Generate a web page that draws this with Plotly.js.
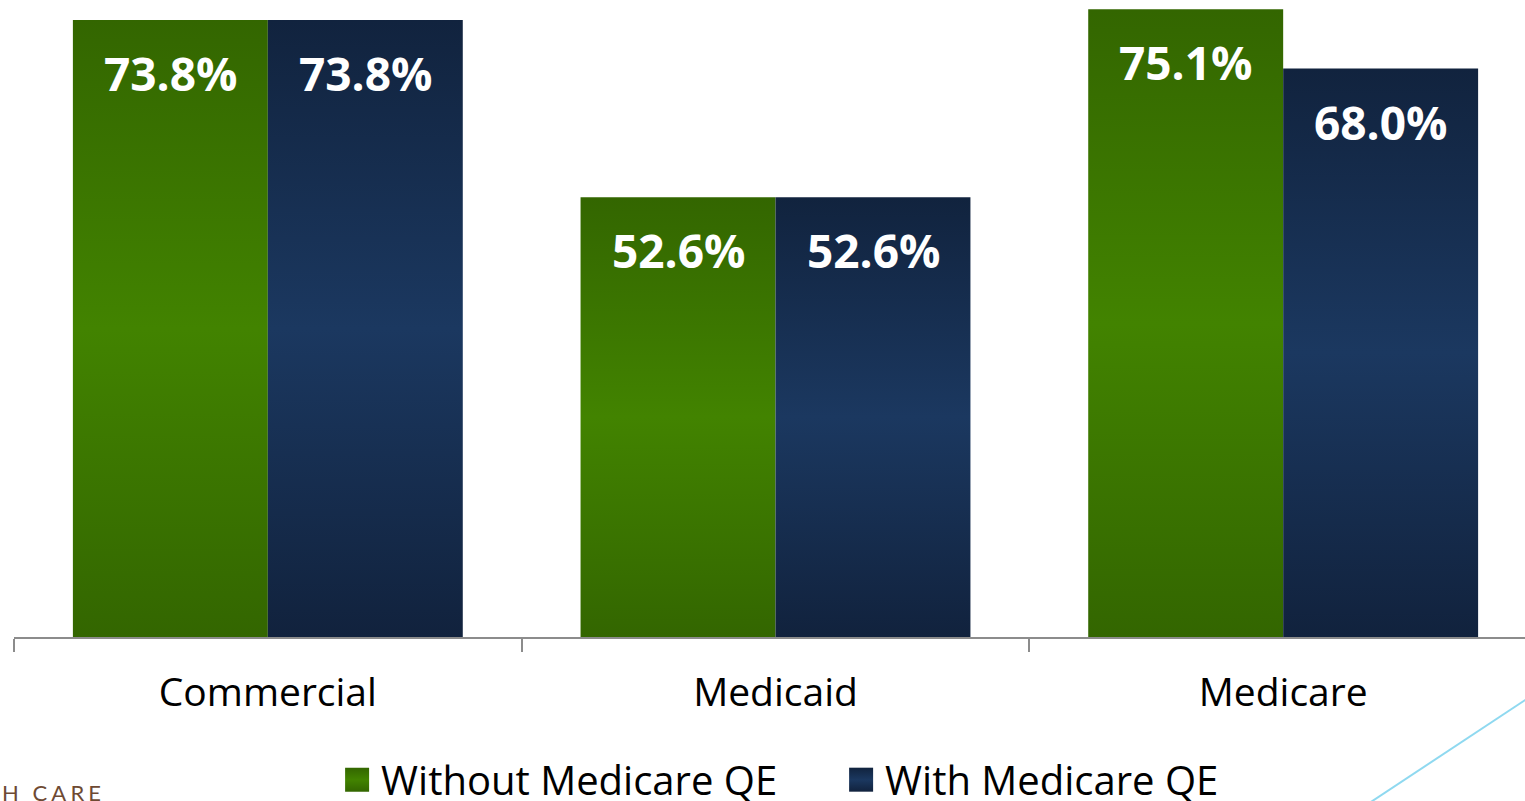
<!DOCTYPE html>
<html>
<head>
<meta charset="utf-8">
<script src="https://cdn.plot.ly/plotly-3.0.1.min.js"></script>
<style>
  html, body { margin: 0; padding: 0; overflow: hidden; background: #fff; }
  #chart { width: 1537px; height: 801px; }
</style>
</head>
<body>
<div id="chart"></div>
<script>
// ---- data ----
const categories = ["Commercial", "Medicaid", "Medicare"];
const withoutQE = [73.8, 52.6, 75.1];
const withQE = [73.8, 52.6, 68.0];
const seriesNames = ["Without Medicare QE", "With Medicare QE"];

const greenColor = "#3b7500";
const blueColor = "#172e51";
const labelFont = "'Open Sans', 'Noto Sans', sans-serif";

const traces = [
  { type: "bar", name: seriesNames[0], x: categories, y: withoutQE,
    marker: { color: greenColor, line: { width: 0 } }, hoverinfo: "none" },
  { type: "bar", name: seriesNames[1], x: categories, y: withQE,
    marker: { color: blueColor, line: { width: 0 } }, hoverinfo: "none" }
];

const annotations = [];
[withoutQE, withQE].forEach((vals, si) => {
  vals.forEach((v, i) => {
    annotations.push({
      x: categories[i], y: v, xref: "x", yref: "y",
      xshift: si === 0 ? -97.5 : 97.5, yshift: -53,
      text: v.toFixed(1) + "%", showarrow: false,
      xanchor: "center", yanchor: "middle",
      font: { family: labelFont, size: 46, color: "#ffffff", weight: 700 }
    });
  });
});
annotations.push({
  x: -0.0095, y: -0.2435, xref: "paper", yref: "paper",
  xanchor: "left", yanchor: "middle", showarrow: false,
  text: "H\u2002\u2009C\u2009\u200AA\u2009\u200AR\u2009\u200AE",
  font: { family: "Lato, 'Open Sans', sans-serif", size: 22, color: "#6e4a33" }
});

const layout = {
  width: 1537, height: 801,
  margin: { l: 14, r: 0, t: 0, b: 164, pad: 0, autoexpand: false },
  paper_bgcolor: "#ffffff", plot_bgcolor: "#ffffff",
  barmode: "group", bargap: 0.232, bargroupgap: 0,
  showlegend: true,
  legend: {
    orientation: "h", x: (341 - 14) / 1522.5, xanchor: "left", y: -0.224, yanchor: "middle",
    bgcolor: "rgba(0,0,0,0)",
    font: { family: labelFont, size: 40, color: "#000000" },
    itemwidth: 30, traceorder: "normal",
    entrywidth: 459, entrywidthmode: "pixels"
  },
  xaxis: {
    type: "category", showgrid: false, zeroline: false, automargin: false,
    showline: true, linecolor: "#8c8c8c", linewidth: 2,
    ticks: "outside", tickson: "boundaries", ticklen: 13, tickwidth: 2, tickcolor: "#8c8c8c",
    tickfont: { family: labelFont, size: 39, color: "#000000" },
    ticklabelstandoff: 20
  },
  yaxis: { range: [0, 76.2], showgrid: false, zeroline: false, showticklabels: false, ticks: "", showline: false, automargin: false },
  annotations: annotations,
  shapes: [{
    type: "line", xref: "paper", yref: "paper",
    x0: 1.0548, y0: 0.0, x1: 0.865, y1: -0.3,
    line: { color: "#8fd9f0", width: 2 }
  }]
};

Plotly.newPlot("chart", traces, layout, { staticPlot: true, displayModeBar: false }).then(() => {
  // vertical gradient fills on the library-drawn bars
  const svg = document.querySelector("#chart .main-svg");
  const ns = "http://www.w3.org/2000/svg";
  let defs = svg.querySelector("defs");
  if (!defs) { defs = document.createElementNS(ns, "defs"); svg.insertBefore(defs, svg.firstChild); }
  const grads = [
    { id: "gGreen", c: ["#336600", "#428300", "#336600"] },
    { id: "gBlue", c: ["#11233e", "#1b3860", "#11223d"] }
  ];
  grads.forEach(g => {
    const lg = document.createElementNS(ns, "linearGradient");
    lg.setAttribute("id", g.id);
    lg.setAttribute("x1", "0"); lg.setAttribute("y1", "0");
    lg.setAttribute("x2", "0"); lg.setAttribute("y2", "1");
    [0, 0.5, 1].forEach((o, k) => {
      const st = document.createElementNS(ns, "stop");
      st.setAttribute("offset", o);
      st.setAttribute("stop-color", g.c[k]);
      lg.appendChild(st);
    });
    defs.appendChild(lg);
  });
  const barTraces = document.querySelectorAll("#chart .barlayer .trace");
  barTraces.forEach((t, i) => {
    t.querySelectorAll(".point path").forEach(p => {
      p.style.fill = "url(#" + grads[i].id + ")";
    });
  });
  const legendTraces = document.querySelectorAll("#chart .legend .traces");
  legendTraces.forEach((t, i) => {
    t.querySelectorAll(".legendpoints path").forEach(p => {
      p.setAttribute("d", "M8,12H-16V-12H8Z");
      p.style.fill = "url(#" + grads[i].id + ")";
    });
  });
});
</script>
</body>
</html>
